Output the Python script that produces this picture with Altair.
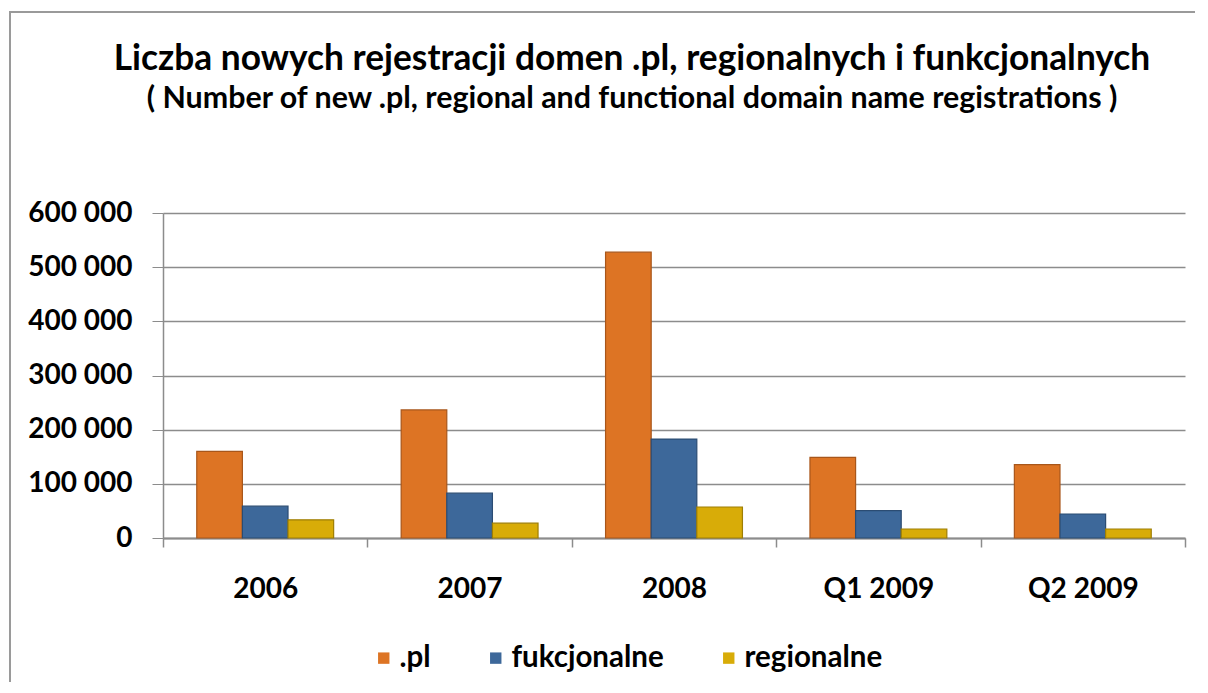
import altair as alt
import pandas as pd

categories = ["2006", "2007", "2008", "Q1 2009", "Q2 2009"]
series = [".pl", "fukcjonalne", "regionalne"]
pl_values = [160000, 236500, 527700, 149000, 135500]
fukc_values = [58700, 82700, 182600, 50500, 44300]
reg_values = [33600, 27300, 57200, 16600, 16600]
colors = ["#DD7424", "#3D689A", "#D8AC08"]
strokes = ["#A8561A", "#2B4C73", "#9E7E05"]
title_text = "Liczba nowych rejestracji domen .pl, regionalnych i funkcjonalnych"
subtitle_text = "( Number of new .pl, regional and functional domain name registrations )"

rows = []
for s, vals in zip(series, [pl_values, fukc_values, reg_values]):
    for c, v in zip(categories, vals):
        rows.append({"kategoria": c, "seria": s, "wartosc": v})
df = pd.DataFrame(rows)

FONT = "Lato"

bars = alt.Chart(df).mark_bar(strokeWidth=1.2).encode(
    x=alt.X("kategoria:N", sort=categories, title=None,
            scale=alt.Scale(paddingInner=0, paddingOuter=0),
            axis=alt.Axis(labelAngle=0, tickBand="extent", tickSize=9,
                          labelPadding=28, labelFontSize=28, labelFont=FONT,
                          labelFontWeight="bold", labelColor="black",
                          domainColor="#8c8c8c", tickColor="#8c8c8c",
                          domainWidth=2, tickWidth=1.5)),
    xOffset=alt.XOffset("seria:N", sort=series,
                        scale=alt.Scale(paddingInner=0, paddingOuter=0.74)),
    y=alt.Y("wartosc:Q", title=None,
            scale=alt.Scale(domain=[0, 600000], nice=False),
            axis=alt.Axis(values=[0, 100000, 200000, 300000, 400000, 500000, 600000],
                          labelExpr="replace(format(datum.value, ','), ',', ' ')",
                          tickSize=11, labelPadding=20, labelFontSize=28,
                          labelFont=FONT, labelFontWeight="bold", labelColor="black",
                          domainColor="#8c8c8c", domainWidth=1.5, tickColor="#8c8c8c",
                          gridColor="#8c8c8c", gridWidth=1.5)),
    color=alt.Color("seria:N", sort=series,
                    scale=alt.Scale(domain=series, range=colors),
                    legend=alt.Legend(title=None, orient="none", direction="horizontal",
                                      legendX=206, legendY=430, columns=3,
                                      columnPadding=50, symbolType="square",
                                      symbolSize=130, symbolStrokeWidth=0,
                                      symbolOffset=0, labelOffset=1,
                                      labelFontSize=29.5, labelFont=FONT,
                                      labelFontWeight="bold", labelColor="black")),
    stroke=alt.Stroke("seria:N", sort=series,
                      scale=alt.Scale(domain=series, range=strokes), legend=None),
)

frame_df = pd.DataFrame({"f": [0]})
frame_left = alt.Chart(frame_df).mark_rule(stroke="#9a9a9a", strokeWidth=2).encode(
    x=alt.value(-153), y=alt.value(-202), y2=alt.value(469),
)
frame_top = alt.Chart(frame_df).mark_rule(stroke="#9a9a9a", strokeWidth=2).encode(
    x=alt.value(-154), x2=alt.value(1032), y=alt.value(-201),
)

title = alt.Chart(pd.DataFrame({"t": [title_text]})).mark_text(
    font=FONT, fontSize=35.3, fontWeight="bold", color="black",
    align="center", baseline="alphabetic"
).encode(text="t:N", x=alt.value(469), y=alt.value(70 - 213))

subtitle = alt.Chart(pd.DataFrame({"t": [subtitle_text]})).mark_text(
    font=FONT, fontSize=30.4, fontWeight="bold", color="black",
    align="center", baseline="alphabetic"
).encode(text="t:N", x=alt.value(469), y=alt.value(108 - 213))

chart = alt.layer(frame_left, frame_top, bars, title, subtitle).properties(
    width=1022, height=325,
    autosize=alt.AutoSizeParams(type="none"),
    padding={"left": 155, "top": 205, "right": 10, "bottom": 144},
).configure_view(stroke=None)

chart.save("out.html", embed_options={"renderer": "svg", "actions": False})
